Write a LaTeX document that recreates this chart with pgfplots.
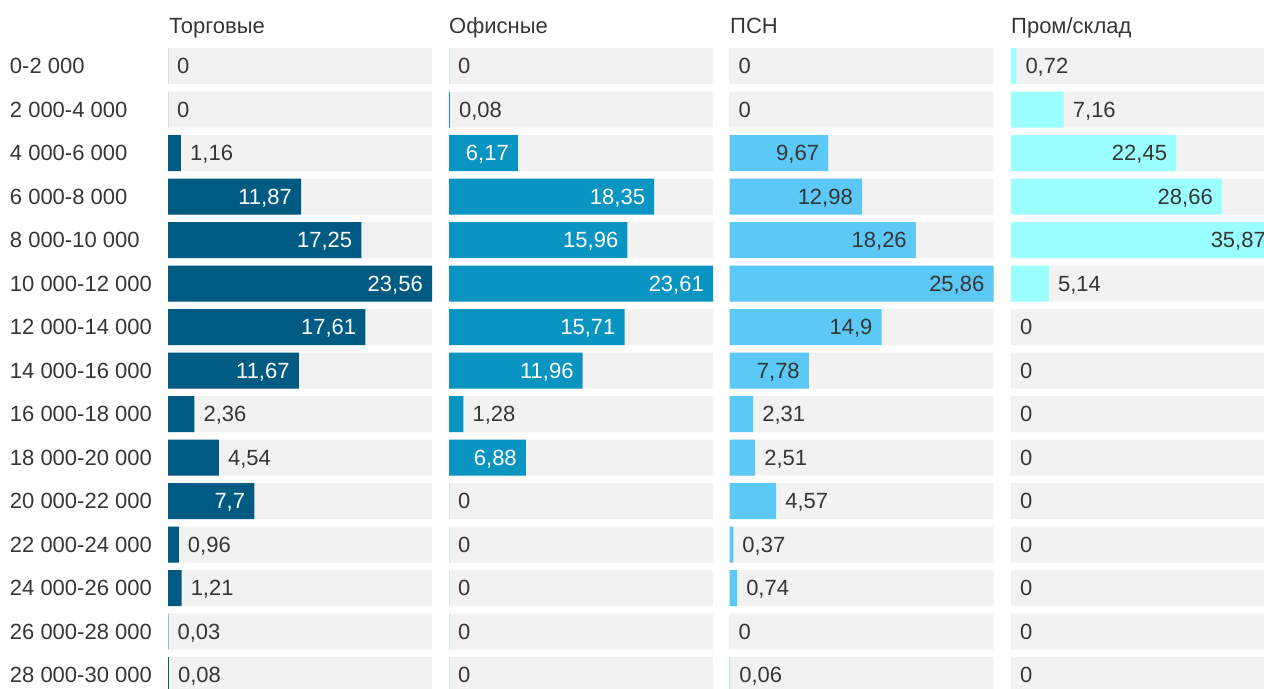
\documentclass[border=0pt]{standalone}
\usepackage{fontspec}
\setmainfont{Liberation Sans}
\usepackage{pgfplots}
\usepackage{pgfplotstable}
\pgfplotsset{compat=1.18}
\definecolor{bgc}{HTML}{F2F2F2}
\definecolor{tc}{HTML}{363636}
\definecolor{c1}{HTML}{005B82}
\definecolor{c2}{HTML}{0994C1}
\definecolor{c3}{HTML}{5BC8F5}
\definecolor{c4}{HTML}{9BFFFF}
\newcommand{\fsz}{\fontsize{22bp}{26bp}\selectfont}

% in = 1: label inside the bar, 0: outside
\pgfplotstableread{
row v in
0 0 0
1 0 0
2 1.16 0
3 11.87 1
4 17.25 1
5 23.56 1
6 17.61 1
7 11.67 1
8 2.36 0
9 4.54 0
10 7.7 1
11 0.96 0
12 1.21 0
13 0.03 0
14 0.08 0
}\tA
\pgfplotstableread{
row v in
0 0 0
1 0.08 0
2 6.17 1
3 18.35 1
4 15.96 1
5 23.61 1
6 15.71 1
7 11.96 1
8 1.28 0
9 6.88 1
10 0 0
11 0 0
12 0 0
13 0 0
14 0 0
}\tB
\pgfplotstableread{
row v in
0 0 0
1 0 0
2 9.67 1
3 12.98 1
4 18.26 1
5 25.86 1
6 14.9 1
7 7.78 1
8 2.31 0
9 2.51 0
10 4.57 0
11 0.37 0
12 0.74 0
13 0 0
14 0.06 0
}\tC
\pgfplotstableread{
row v in
0 0.72 0
1 7.16 0
2 22.45 1
3 28.66 1
4 35.87 1
5 5.14 0
6 0 0
7 0 0
8 0 0
9 0 0
10 0 0
11 0 0
12 0 0
13 0 0
14 0 0
}\tD

\pgfplotsset{
 panel/.style={
  scale only axis, width=264bp, height=652.5bp,
  anchor=north west,
  xmin=0, ymin=-0.5, ymax=14.5, y dir=reverse,
  enlargelimits=false, clip=false,
  axis line style={draw=none}, tick style={draw=none},
  xtick=\empty, ytick=\empty,
  xbar, bar width=36bp, bar shift=0pt,
 },
 lab/.style 2 args={
  draw=none, fill=#1,
  point meta=x,
  visualization depends on={\thisrow{in}\as\myin},
  nodes near coords={\ifdim\myin pt>0.5pt\color{#2}\else\color{tc}\fi\pgfmathprintnumber[fixed,precision=2,use comma,assume math mode=true]{\pgfplotspointmeta}},
  nodes near coords style={anchor={\ifdim\myin pt>0.5pt base east\else base west\fi}, yshift=-7.8bp, inner xsep=9bp, inner ysep=0pt, font=\fsz},
 },
}

\begin{document}
\fsz
\begin{tikzpicture}
\path[use as bounding box] (0,0) rectangle (1264bp,-689bp);
\clip (0,0) rectangle (1264bp,-689bp);

\begin{axis}[panel, at={(168bp,-44.25bp)}, xmax=23.56,
  ytick={0,...,14},
  yticklabels={0-2 000,2 000-4 000,4 000-6 000,6 000-8 000,8 000-10 000,10 000-12 000,12 000-14 000,14 000-16 000,16 000-18 000,18 000-20 000,20 000-22 000,22 000-24 000,24 000-26 000,26 000-28 000,28 000-30 000},
  yticklabel style={anchor=west, xshift=-154bp, inner xsep=0pt, font=\fsz, text=tc}]
\addplot[fill=bgc, draw=none] table[x expr=23.56, y=row] {\tA};
\addplot[lab={c1}{white}] table[x=v, y=row] {\tA};
\end{axis}

\begin{axis}[panel, at={(449bp,-44.25bp)}, xmax=23.61]
\addplot[fill=bgc, draw=none] table[x expr=23.61, y=row] {\tB};
\addplot[lab={c2}{white}] table[x=v, y=row] {\tB};
\end{axis}

\begin{axis}[panel, at={(729.5bp,-44.25bp)}, xmax=25.86]
\addplot[fill=bgc, draw=none] table[x expr=25.86, y=row] {\tC};
\addplot[lab={c3}{tc}] table[x=v, y=row] {\tC};
\end{axis}

\begin{axis}[panel, at={(1011bp,-44.25bp)}, xmax=35.87]
\addplot[fill=bgc, draw=none] table[x expr=35.87, y=row] {\tD};
\addplot[lab={c4}{tc}] table[x=v, y=row] {\tD};
\end{axis}

\node[anchor=base west, text=tc, inner sep=0pt] at (169bp,-33bp) {Торговые};
\node[anchor=base west, text=tc, inner sep=0pt] at (449bp,-33bp) {Офисные};
\node[anchor=base west, text=tc, inner sep=0pt] at (730bp,-33bp) {ПСН};
\node[anchor=base west, text=tc, inner sep=0pt] at (1011bp,-33bp) {Пром/склад};
\end{tikzpicture}
\end{document}
